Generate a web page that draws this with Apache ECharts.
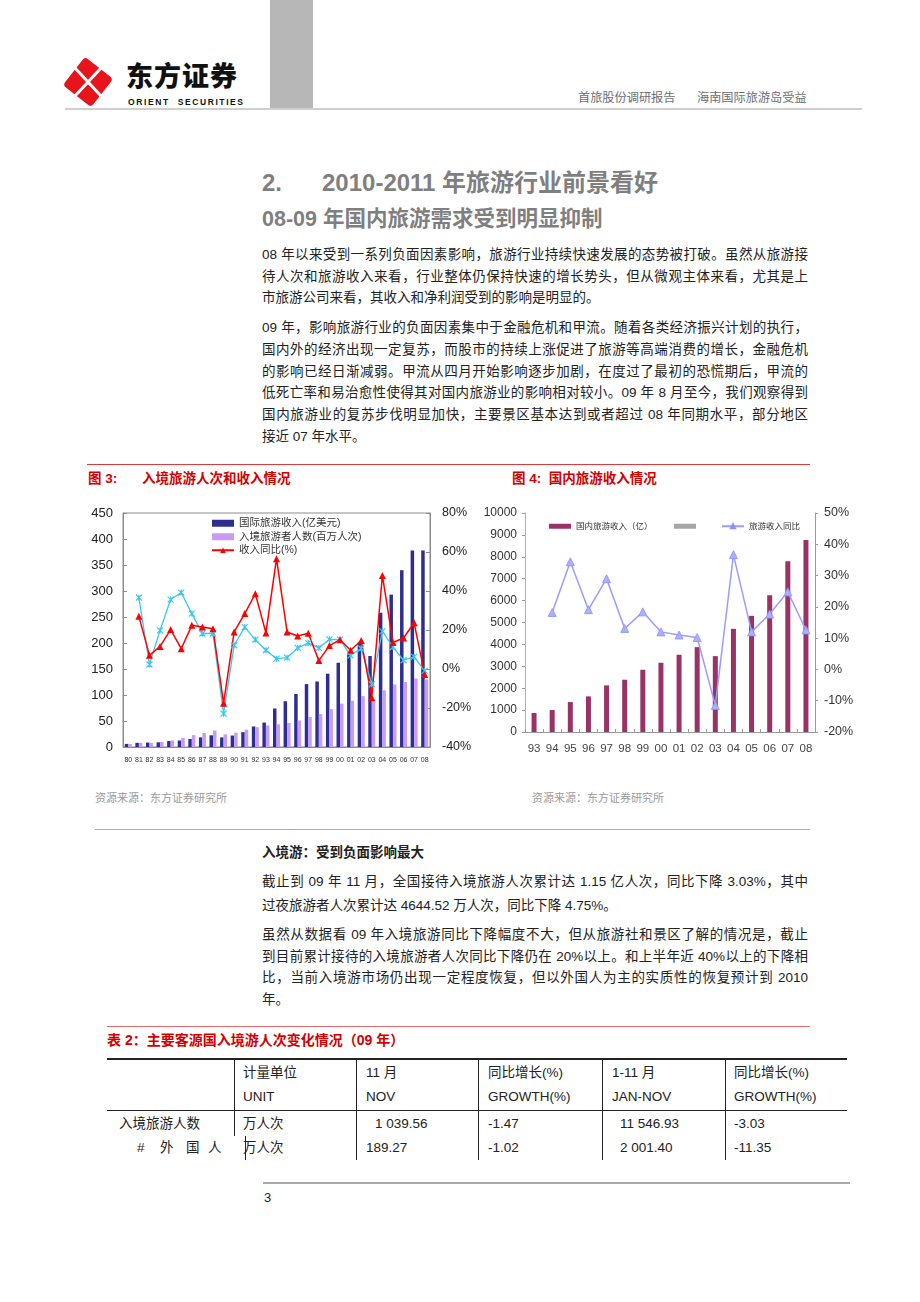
<!DOCTYPE html>
<html><head><meta charset="utf-8">
<script src="https://cdn.jsdelivr.net/npm/echarts@6/dist/echarts.min.js"></script>
<style>
body{margin:0;background:#fff;}
#page{position:relative;width:920px;height:1302px;overflow:hidden;font-family:"Liberation Sans","Noto Sans CJK SC",sans-serif;color:#222;background:#fff;}
.a{position:absolute;white-space:nowrap;}
.ln{position:absolute;left:262px;width:546px;font-size:13.5px;line-height:20px;height:20px;text-align:justify;text-align-last:justify;color:#222;}
.ln.last{text-align-last:left;}
.hl{position:absolute;height:0;}
.cap{position:absolute;color:#d40000;font-weight:bold;font-size:13.5px;line-height:18px;white-space:nowrap;}
.src{position:absolute;color:#9a9a9a;font-size:11px;line-height:14px;white-space:nowrap;}
.td{position:absolute;font-size:13.5px;line-height:18px;white-space:nowrap;color:#222;}
.vl{position:absolute;width:0;border-left:1px solid #222;}
</style></head>
<body><div id="page">
<!-- header -->
<svg class="a" style="left:61px;top:55px" width="54" height="54" viewBox="-27 -27 54 54">
  <g transform="rotate(38)"><rect x="-18" y="-18" width="36" height="36" rx="4" fill="#e8141c"/></g>
  <line x1="-13" y1="-14" x2="13" y2="14" stroke="#fff" stroke-width="3"/>
  <line x1="13" y1="-14" x2="-13" y2="14" stroke="#fff" stroke-width="3"/>
</svg>
<div class="a" style="left:126px;top:61px;font-size:27px;font-weight:900;line-height:28px;height:28px;color:#111;font-family:'Noto Sans CJK SC',sans-serif;letter-spacing:1px;">东方证券</div>
<div class="a" style="left:128px;top:97px;font-size:8.5px;font-weight:bold;line-height:10px;color:#111;letter-spacing:1.6px;">ORIENT&nbsp; SECURITIES</div>
<div class="a" style="left:270px;top:0;width:43px;height:108px;background:#b7b7b7;"></div>
<div class="a" style="left:578px;top:90px;font-size:12.2px;line-height:16px;color:#6e6e6e;">首旅股份调研报告</div>
<div class="a" style="left:697px;top:90px;font-size:12.2px;line-height:16px;color:#6e6e6e;">海南国际旅游岛受益</div>
<div class="hl" style="left:65px;top:108px;width:797px;border-top:2px solid #cfcfcf;"></div>

<!-- headings -->
<div class="a" style="left:262px;top:167px;font-size:24px;font-weight:bold;line-height:32px;color:#7f7f7f;">2.</div>
<div class="a" style="left:322px;top:167px;font-size:24px;font-weight:bold;line-height:32px;color:#7f7f7f;">2010-2011 年旅游行业前景看好</div>
<div class="a" style="left:262px;top:204px;font-size:21.5px;font-weight:bold;line-height:30px;color:#7f7f7f;">08-09 年国内旅游需求受到明显抑制</div>

<div class="ln" style="top:245px;">08 年以来受到一系列负面因素影响，旅游行业持续快速发展的态势被打破。虽然从旅游接</div>
<div class="ln" style="top:267px;">待人次和旅游收入来看，行业整体仍保持快速的增长势头，但从微观主体来看，尤其是上</div>
<div class="ln last" style="top:288px;">市旅游公司来看，其收入和净利润受到的影响是明显的。</div>

<div class="ln" style="top:318px;">09 年，影响旅游行业的负面因素集中于金融危机和甲流。随着各类经济振兴计划的执行，</div>
<div class="ln" style="top:340px;">国内外的经济出现一定复苏，而股市的持续上涨促进了旅游等高端消费的增长，金融危机</div>
<div class="ln" style="top:362px;">的影响已经日渐减弱。甲流从四月开始影响逐步加剧，在度过了最初的恐慌期后，甲流的</div>
<div class="ln" style="top:383px;">低死亡率和易治愈性使得其对国内旅游业的影响相对较小。09 年 8 月至今，我们观察得到</div>
<div class="ln" style="top:405px;">国内旅游业的复苏步伐明显加快，主要景区基本达到或者超过 08 年同期水平，部分地区</div>
<div class="ln last" style="top:427px;">接近 07 年水平。</div>

<!-- figure captions -->
<div class="hl" style="left:87px;top:464px;width:723px;border-top:1px solid #e03a3a;"></div>
<div class="cap" style="left:88px;top:470px;">图 3:</div>
<div class="cap" style="left:142px;top:470px;">入境旅游人次和收入情况</div>
<div class="cap" style="left:512px;top:470px;">图 4:&nbsp; 国内旅游收入情况</div>

<div id="c1" class="a" style="left:85px;top:500px;width:390px;height:275px;"></div>
<div id="c2" class="a" style="left:480px;top:500px;width:390px;height:270px;"></div>

<div class="src" style="left:95px;top:791px;">资源来源：东方证券研究所</div>
<div class="src" style="left:532px;top:791px;">资源来源：东方证券研究所</div>
<div class="hl" style="left:95px;top:829px;width:715px;border-top:1px solid #f09090;"></div>

<div class="a" style="left:262px;top:843px;font-size:13.5px;line-height:20px;font-weight:bold;color:#222;">入境游：受到负面影响最大</div>
<div class="ln" style="top:872px;">截止到 09 年 11 月，全国接待入境旅游人次累计达 1.15 亿人次，同比下降 3.03%，其中</div>
<div class="ln last" style="top:896px;">过夜旅游者人次累计达 4644.52 万人次，同比下降 4.75%。</div>
<div class="ln" style="top:925px;">虽然从数据看 09 年入境旅游同比下降幅度不大，但从旅游社和景区了解的情况是，截止</div>
<div class="ln" style="top:947px;">到目前累计接待的入境旅游者人次同比下降仍在 20%以上。和上半年近 40%以上的下降相</div>
<div class="ln" style="top:968px;">比，当前入境游市场仍出现一定程度恢复，但以外国人为主的实质性的恢复预计到 2010</div>
<div class="ln last" style="top:990px;">年。</div>

<!-- table -->
<div class="hl" style="left:107px;top:1026px;width:703px;border-top:1px solid #e86a6a;"></div>
<div class="cap" style="left:107px;top:1031px;font-size:14px;">表 2：主要客源国入境游人次变化情况（09 年）</div>
<div class="hl" style="left:107px;top:1058px;width:740px;border-top:2px solid #222;"></div>
<div class="hl" style="left:107px;top:1110px;width:740px;border-top:1px solid #222;"></div>
<div class="vl" style="left:234px;top:1059px;height:77px;"></div>
<div class="vl" style="left:245px;top:1136px;height:24px;"></div>
<div class="vl" style="left:356px;top:1059px;height:101px;"></div>
<div class="vl" style="left:478px;top:1059px;height:101px;"></div>
<div class="vl" style="left:602px;top:1059px;height:101px;"></div>
<div class="vl" style="left:725px;top:1059px;height:101px;"></div>

<div class="td" style="left:243px;top:1064px;">计量单位</div>
<div class="td" style="left:366px;top:1064px;">11 月</div>
<div class="td" style="left:488px;top:1064px;">同比增长(%)</div>
<div class="td" style="left:612px;top:1064px;">1-11 月</div>
<div class="td" style="left:734px;top:1064px;">同比增长(%)</div>
<div class="td" style="left:243px;top:1088px;">UNIT</div>
<div class="td" style="left:366px;top:1088px;">NOV</div>
<div class="td" style="left:488px;top:1088px;">GROWTH(%)</div>
<div class="td" style="left:612px;top:1088px;">JAN-NOV</div>
<div class="td" style="left:734px;top:1088px;">GROWTH(%)</div>
<div class="td" style="left:119px;top:1115px;">入境旅游人数</div>
<div class="td" style="left:243px;top:1115px;">万人次</div>
<div class="td" style="left:375px;top:1115px;">1 039.56</div>
<div class="td" style="left:488px;top:1115px;">-1.47</div>
<div class="td" style="left:620px;top:1115px;">11 546.93</div>
<div class="td" style="left:734px;top:1115px;">-3.03</div>
<div class="td" style="left:137px;top:1139px;">#</div>
<div class="td" style="left:160px;top:1139px;">外</div>
<div class="td" style="left:186px;top:1139px;">国</div>
<div class="td" style="left:208px;top:1139px;">人</div>
<div class="td" style="left:243px;top:1139px;">万人次</div>
<div class="td" style="left:366px;top:1139px;">189.27</div>
<div class="td" style="left:488px;top:1139px;">-1.02</div>
<div class="td" style="left:620px;top:1139px;">2 001.40</div>
<div class="td" style="left:734px;top:1139px;">-11.35</div>

<div class="hl" style="left:263px;top:1182px;width:587px;border-top:2px solid #a8a8a8;"></div>
<div class="a" style="left:264px;top:1190px;font-size:13px;line-height:16px;color:#222;">3</div>
</div>

<script>
// ---------- Figure 3 data ----------
const years1 = ['80','81','82','83','84','85','86','87','88','89','90','91','92','93','94','95','96','97','98','99','00','01','02','03','04','05','06','07','08'];
const intlRevenue = [6,8,8.5,9,11.5,12.5,15.5,18.5,22.5,18.5,22,28.5,39.5,47,74,88,102,121,126,141,162,178,201,175,258,293,340,378,378];
const inboundArrivals = [5.7,7.8,7.9,9.5,12.8,17.5,22.8,26.9,31.7,24.5,27.5,33.3,38.1,41.5,43.7,46.4,51.1,57.6,63.5,72.8,83.4,89.0,97.9,91.7,109.0,120.3,124.9,131.9,130.0];
const revenueYoY = [null,27,7,11.6,20.2,10.4,22.4,21.5,20.7,-17.5,19,28.4,38.6,18.5,56.6,19,16.9,18.3,4.3,12,15,9.6,14.6,-14.7,48,13.6,15.9,23.7,-2.8];
const arrivalsYoY = [null,36.6,2.3,19.8,35.6,39.2,28.4,18.2,18.2,-22.9,12.2,21.5,15.1,9.6,5.3,5.8,10.8,13.3,10.8,15.2,15.1,7.0,10.5,-7.8,19.3,11.3,4.5,6.2,-1.0];
const names1 = ['国际旅游收入(亿美元)','入境旅游者人数(百万人次)','收入同比(%)','入境人数同比(%)'];

// ---------- Figure 4 data ----------
const years2 = ['93','94','95','96','97','98','99','00','01','02','03','04','05','06','07','08'];
const domesticRevenue = [866,1003,1368,1626,2128,2386,2842,3161,3526,3875,3465,4711,5304,6246,7796,8769];
const domesticYoY = [null,18.2,34.4,19.1,29.0,13.1,18.4,12.0,11.0,10.2,-11.5,36.7,12.0,17.7,24.8,12.6];
const names2 = ['国内旅游收入（亿）',' ','旅游收入同比'];

const FONT = '"Liberation Sans","Noto Sans CJK SC",sans-serif';

const c1 = echarts.init(document.getElementById('c1'), null, {renderer:'canvas'});
c1.setOption({
  animation:false,
  textStyle:{fontFamily:FONT},
  grid:{left:38, top:13, width:307, height:234, show:true, borderColor:'#8c8c8c', borderWidth:1, backgroundColor:'transparent'},
  legend:{
    data:[{name:names1[0], icon:'rect'},{name:names1[1], icon:'rect'},{name:names1[2]}],
    orient:'vertical', left:121, top:13, itemWidth:22, itemHeight:7, itemGap:3,
    textStyle:{fontSize:10.5, color:'#333', fontFamily:FONT}
  },
  xAxis:{type:'category', data:years1,
    axisLine:{lineStyle:{color:'#8c8c8c'}}, axisTick:{show:false},
    axisLabel:{interval:0, fontSize:7, color:'#333', margin:10}},
  yAxis:[
    {type:'value', min:0, max:450, interval:50,
      axisLine:{show:true, lineStyle:{color:'#8c8c8c'}},
      axisTick:{show:true, inside:true, length:4, lineStyle:{color:'#8c8c8c'}},
      splitLine:{show:false},
      axisLabel:{fontSize:13, color:'#222', margin:10}},
    {type:'value', min:-40, max:80, interval:20,
      axisLine:{show:true, lineStyle:{color:'#8c8c8c'}},
      axisTick:{show:true, inside:true, length:4, lineStyle:{color:'#8c8c8c'}},
      splitLine:{show:false},
      axisLabel:{fontSize:12.5, color:'#222', margin:12, formatter:'{value}%'}}
  ],
  series:[
    {name:names1[0], type:'bar', data:intlRevenue, barWidth:3.5, barGap:'0%', itemStyle:{color:'#2e2e92'}},
    {name:names1[1], type:'bar', data:inboundArrivals, barWidth:3.5, itemStyle:{color:'#c89cf4'}},
    {name:names1[3], type:'line', yAxisIndex:1, data:arrivalsYoY,
      symbol:'path://M0,0L10,10M10,0L0,10M5,0L5,10', symbolSize:6,
      lineStyle:{color:'#38c8f0', width:1.3},
      itemStyle:{color:'none', borderColor:'#38c8f0', borderWidth:1.2}},
    {name:names1[2], type:'line', yAxisIndex:1, data:revenueYoY,
      symbol:'triangle', symbolSize:7,
      lineStyle:{color:'#ff0000', width:1.5},
      itemStyle:{color:'#ff0000'}}
  ]
});

const c2 = echarts.init(document.getElementById('c2'), null, {renderer:'canvas'});
const legCommon = {top:17, itemWidth:22, itemHeight:5, textStyle:{fontSize:8.5, color:'#333', fontFamily:FONT}};
c2.setOption({
  animation:false,
  textStyle:{fontFamily:FONT},
  grid:{left:45, top:13, width:290, height:219},
  legend:[
    Object.assign({data:[{name:names2[0], icon:'rect'}], left:64}, legCommon),
    Object.assign({data:[{name:names2[1], icon:'rect'}], left:189}, legCommon),
    Object.assign({data:[{name:names2[2]}], left:236}, legCommon)
  ],
  xAxis:{type:'category', data:years2,
    axisLine:{lineStyle:{color:'#9a9a9a'}},
    axisTick:{show:true, inside:true, length:3, lineStyle:{color:'#9a9a9a'}},
    axisLabel:{interval:0, fontSize:11.5, color:'#444', margin:11}},
  yAxis:[
    {type:'value', min:0, max:10000, interval:1000,
      axisLine:{show:true, lineStyle:{color:'#b0b0b0'}},
      axisTick:{show:true, length:3, lineStyle:{color:'#9a9a9a'}},
      splitLine:{show:false},
      axisLabel:{fontSize:12, color:'#333', margin:8, formatter:function(v){return String(v);}}},
    {type:'value', min:-20, max:50, interval:10,
      axisLine:{show:true, lineStyle:{color:'#9a9a9a'}},
      axisTick:{show:true, length:3, lineStyle:{color:'#9a9a9a'}},
      splitLine:{show:false},
      axisLabel:{fontSize:12.5, color:'#333', margin:9, formatter:'{value}%'}}
  ],
  series:[
    {name:names2[0], type:'bar', stack:'a', data:domesticRevenue, barWidth:5, itemStyle:{color:'#993366'}},
    {name:names2[1], type:'bar', stack:'a', data:[], barWidth:5, itemStyle:{color:'#a6a6a6'}},
    {name:names2[2], type:'line', yAxisIndex:1, data:domesticYoY,
      symbol:'triangle', symbolSize:8,
      lineStyle:{color:'#9a9cff', width:1.5},
      itemStyle:{color:'#aab0ff', borderColor:'#8c90ff', borderWidth:0.8}}
  ]
});
</script>
</body></html>
